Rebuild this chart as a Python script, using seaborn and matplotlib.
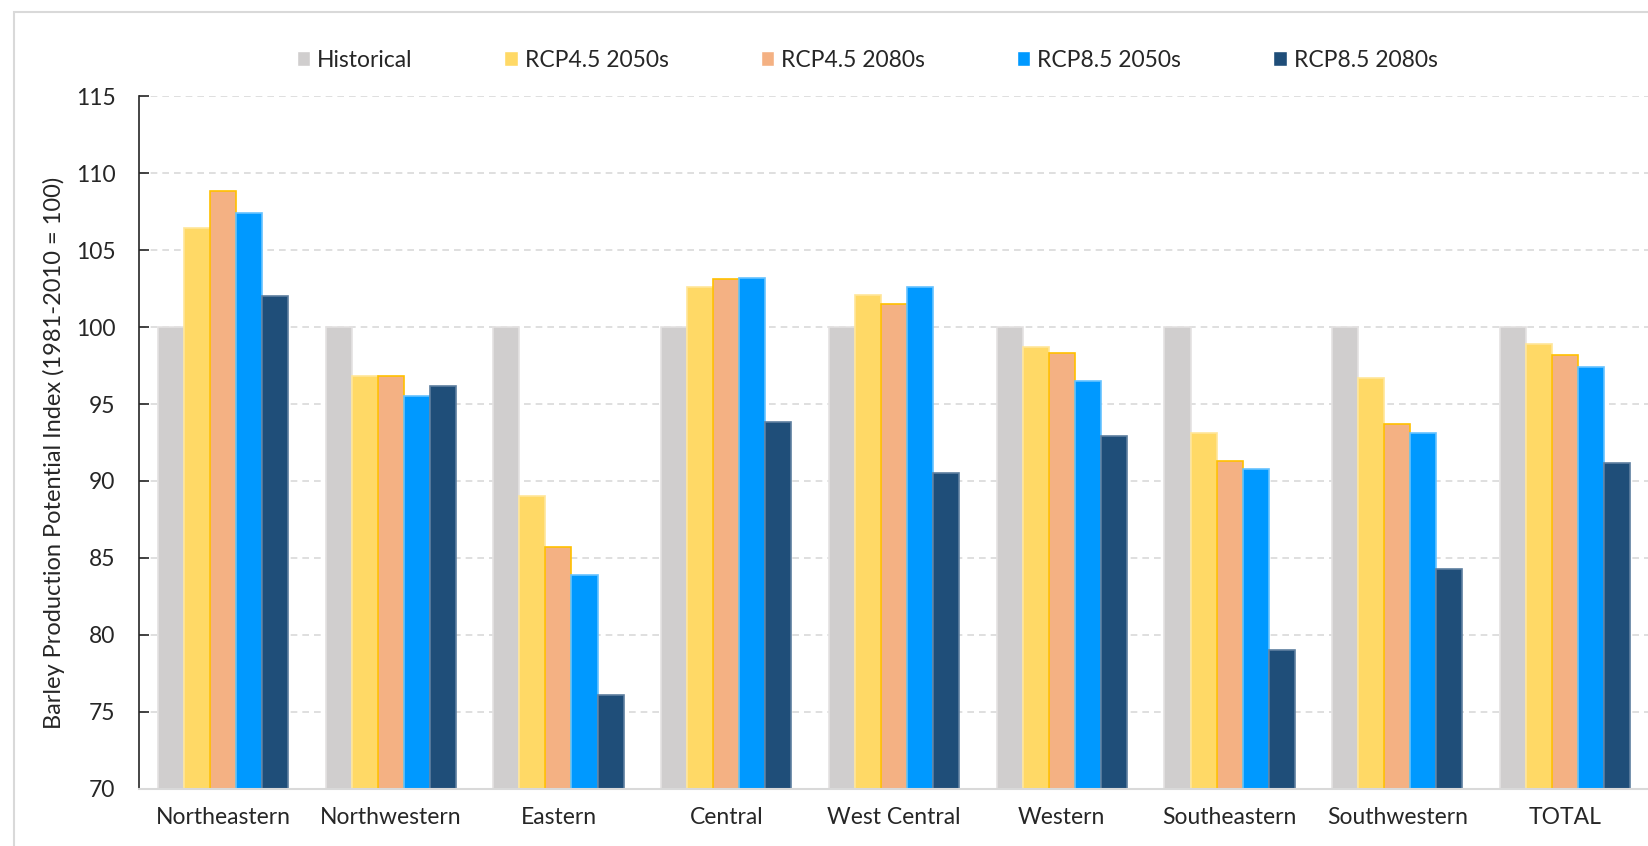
import numpy as np
import pandas as pd
import matplotlib
matplotlib.use('Agg')
import matplotlib.pyplot as plt
from matplotlib.patches import Rectangle
import seaborn as sns

# ─── Données ──────────────────────────────────────────────────────────────────
regions = ['Northeastern', 'Northwestern', 'Eastern', 'Central', 'West Central',
           'Western', 'Southeastern', 'Southwestern', 'TOTAL']
scenarios = ['Historical', 'RCP4.5 2050s', 'RCP4.5 2080s', 'RCP8.5 2050s', 'RCP8.5 2080s']

historical = [100, 100, 100, 100, 100, 100, 100, 100, 100]
rcp45_2050 = [106.4, 96.8, 89.0, 102.6, 102.1, 98.7, 93.1, 96.7, 98.9]
rcp45_2080 = [108.8, 96.8, 85.7, 103.1, 101.5, 98.3, 91.3, 93.7, 98.2]
rcp85_2050 = [107.4, 95.5, 83.9, 103.2, 102.6, 96.5, 90.8, 93.1, 97.4]
rcp85_2080 = [102.0, 96.2, 76.1, 93.8, 90.5, 92.9, 79.0, 84.3, 91.2]

y_ticks = [70, 75, 80, 85, 90, 95, 100, 105, 110, 115]

PALETTE = {'Historical': '#D0CECE', 'RCP4.5 2050s': '#FFD966',
           'RCP4.5 2080s': '#F4B183', 'RCP8.5 2050s': '#0099FF',
           'RCP8.5 2080s': '#1F4E79'}
EDGES = ['#E4E2E2', '#FFE699', '#FFC000', '#66C2FF', '#5E7FA0']

df = pd.DataFrame({'Region': regions, 'Historical': historical,
                   'RCP4.5 2050s': rcp45_2050, 'RCP4.5 2080s': rcp45_2080,
                   'RCP8.5 2050s': rcp85_2050, 'RCP8.5 2080s': rcp85_2080})
df_long = df.melt(id_vars='Region', var_name='Scenario', value_name='Index')

# ─── Figure ───────────────────────────────────────────────────────────────────
sns.set_style('white')
plt.rcParams['font.family'] = ['Lato', 'DejaVu Sans']

fig = plt.figure(figsize=(16.49, 8.46), dpi=100)
ax = fig.add_axes([0.0843, 0.0674, 0.9157, 0.8191])

sns.barplot(data=df_long, x='Region', y='Index', hue='Scenario',
            hue_order=scenarios, palette=PALETTE, saturation=1,
            width=0.776, gap=0, ax=ax)

for container, ec in zip(ax.containers, EDGES):
    for bar in container:
        bar.set_edgecolor(ec)
        bar.set_linewidth(1.2)

ax.set_ylim(70, 115)
ax.set_xlim(-0.5, 8.5)
ax.set_yticks(y_ticks)
ax.set_xlabel('')
ax.set_ylabel('Barley Production Potential Index (1981-2010 = 100)',
              fontsize=17, color='#262626')
ax.yaxis.set_label_coords(-0.049, 0.485)

ax.yaxis.grid(True, linestyle=(0, (4, 3)), color='#D9D9D9', linewidth=1.2)
ax.set_axisbelow(True)
ax.tick_params(axis='y', direction='in', length=7, width=1.2, color='#262626',
               pad=17, labelsize=16.5, labelcolor='#262626', left=True)
ax.tick_params(axis='x', length=0, pad=13, labelsize=16.5, labelcolor='#262626')

ax.spines[['top', 'right']].set_visible(False)
ax.spines['left'].set_color('#262626')
ax.spines['left'].set_linewidth(1.2)
ax.spines['bottom'].set_color('#D9D9D9')
ax.spines['bottom'].set_linewidth(1.5)

handles, labels = ax.get_legend_handles_labels()
ax.get_legend().remove()
fig.legend(handles, labels, ncol=5, loc='center',
           bbox_to_anchor=(867 / 1649, 0.929), frameon=False,
           fontsize=16.5, handlelength=0.6, handleheight=0.6,
           handletextpad=0.3, columnspacing=4.0, labelcolor='#262626')

# bordure du graphique (coupée à droite et en bas)
fig.patches.append(Rectangle((14 / 1649, -0.2), 1.5, 1.2 - 12 / 846,
                             transform=fig.transFigure, fill=False,
                             edgecolor='#D9D9D9', linewidth=1.5))

plt.savefig('out.png', dpi=100)
plt.close()
